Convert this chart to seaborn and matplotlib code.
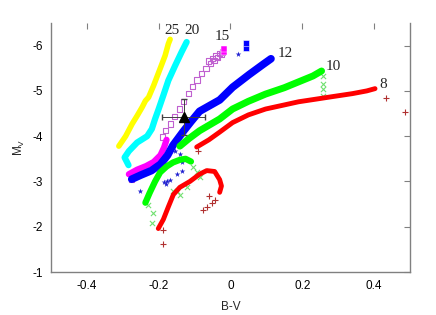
import numpy as np
import matplotlib
matplotlib.use("Agg")
import matplotlib.pyplot as plt
import seaborn as sns

# eixos
x_ticks = [-0.4, -0.2, 0.0, 0.2, 0.4]
x_tick_labels = ["-0.4", "-0.2", "0", "0.2", "0.4"]
y_ticks = [-6, -5, -4, -3, -2, -1]
y_tick_labels = ["-6", "-5", "-4", "-3", "-2", "-1"]

# trajetórias (B-V, M_V)
bv_25 = [-0.311, -0.292, -0.274, -0.26, -0.246, -0.237, -0.228, -0.214, -0.196, -0.182, -0.173, -0.168]
mv_25 = [-3.78, -4.0, -4.27, -4.45, -4.64, -4.78, -4.86, -5.12, -5.49, -5.78, -6.04, -6.14]

bv_20 = [-0.284, -0.295, -0.283, -0.26, -0.232, -0.219, -0.21, -0.2, -0.187, -0.173, -0.154, -0.136, -0.122]
mv_20 = [-3.36, -3.53, -3.67, -3.86, -4.0, -4.16, -4.38, -4.6, -4.9, -5.23, -5.56, -5.86, -6.08]

bv_15 = [-0.283, -0.26, -0.235, -0.214, -0.195, -0.185, -0.178]
mv_15 = [-3.16, -3.26, -3.34, -3.43, -3.58, -3.75, -3.92]
bv_15b = [-0.19, -0.18, -0.168, -0.155, -0.142, -0.13, -0.117, -0.105, -0.093, -0.08, -0.068, -0.056, -0.045, -0.035, -0.025,
          -0.06, -0.05, -0.04, -0.03, -0.022, -0.275, -0.268, -0.262, -0.19, -0.2]
mv_15b = [-3.98, -4.12, -4.27, -4.44, -4.6, -4.77, -4.94, -5.1, -5.24, -5.38, -5.5, -5.6, -5.68, -5.74, -5.8,
          -5.66, -5.72, -5.77, -5.82, -5.86, -3.05, -3.12, -3.18, -3.38, -3.42]
bv_15c = [-0.017, -0.017]
mv_15c = [-5.85, -5.93]

bv_12 = [-0.275, -0.25, -0.22, -0.195, -0.175, -0.16, -0.13, -0.11, -0.086, -0.03, 0.006, 0.052, 0.09, 0.113]
mv_12 = [-3.05, -3.14, -3.24, -3.38, -3.58, -3.8, -4.12, -4.32, -4.55, -4.8, -5.08, -5.36, -5.58, -5.71]
bv_12b = [-0.163, -0.154, -0.141, -0.135, -0.136, -0.15, -0.168, -0.177, -0.251, -0.237, -0.18, -0.185, 0.02]
mv_12b = [-3.71, -3.67, -3.6, -3.42, -3.23, -3.16, -3.04, -3.0, -2.79, -2.56, -2.95, -2.98, -5.82]
bv_12c = [0.044, 0.044]
mv_12c = [-5.95, -6.05]

bv_10 = [-0.237, -0.225, -0.21, -0.196, -0.178, -0.16, -0.14, -0.125, -0.11]
mv_10 = [-2.53, -2.75, -3.0, -3.2, -3.33, -3.42, -3.48, -3.5, -3.44]
bv_10b = [-0.141, -0.115, -0.086, -0.03, 0.006, 0.05, 0.098, 0.15, 0.19, 0.23, 0.254]
mv_10b = [-3.78, -3.95, -4.12, -4.38, -4.6, -4.77, -4.93, -5.07, -5.2, -5.33, -5.44]
bv_10x = [0.257, 0.257, 0.257, 0.257, -0.105, -0.094, -0.086, -0.16, -0.121, -0.218, -0.215, -0.14, -0.15, -0.23]
mv_10x = [-5.33, -5.16, -5.04, -4.89, -3.33, -3.2, -3.09, -2.78, -2.87, -2.09, -2.31, -2.7, -2.8, -2.48]

bv_8 = [-0.201, -0.187, -0.173, -0.159, -0.141, -0.113, -0.086, -0.066, -0.044, -0.03, -0.025, -0.03]
mv_8 = [-1.96, -2.16, -2.44, -2.71, -2.87, -3.0, -3.16, -3.24, -3.22, -3.04, -2.9, -2.76]
bv_8b = [-0.094, -0.06, -0.03, 0.006, 0.05, 0.098, 0.15, 0.19, 0.24, 0.281, 0.34, 0.38, 0.403]
mv_8b = [-3.76, -3.92, -4.09, -4.3, -4.47, -4.6, -4.69, -4.76, -4.82, -4.87, -4.94, -5.0, -5.05]
bv_8x = [-0.044, -0.052, -0.066, -0.077, -0.061, -0.187, -0.188, -0.091, 0.434, 0.486]
mv_8x = [-2.6, -2.53, -2.44, -2.36, -2.67, -1.93, -1.62, -3.67, -4.84, -4.53]

# estrela observada
star_bv, star_mv = -0.13, -4.42
star_bv_err, star_mv_err = 0.06, 0.4

# rótulos das massas
mass_labels = ["25", "20", "15", "12", "10", "8"]
label_bv = [-0.163, -0.106, -0.023, 0.153, 0.288, 0.425]
label_mv = [-6.33, -6.33, -6.21, -5.82, -5.54, -5.14]

sns.set_style("white")
plt.rcParams["font.family"] = ["Liberation Sans", "DejaVu Sans"]
plt.rcParams["axes.unicode_minus"] = False
plt.rcParams["mathtext.fontset"] = "custom"
plt.rcParams["mathtext.rm"] = "Liberation Sans"

fig = plt.figure(figsize=(4.36, 3.15), dpi=100)
ax = fig.add_axes([0.117, 0.1365, 0.823, 0.7905])

def track(bv, mv, color, lw):
    sns.lineplot(x=bv, y=mv, sort=False, estimator=None, color=color, linewidth=lw,
                 solid_capstyle="round", solid_joinstyle="round", ax=ax)

track(bv_25, mv_25, "#ffff00", 4)
track(bv_20, mv_20, "#00ffff", 4.5)
sns.scatterplot(x=bv_15b, y=mv_15b, marker="s", s=14, facecolor="none", edgecolor="#c060d0",
                linewidth=0.8, ax=ax)
track(bv_15, mv_15, "#ff00ff", 4.5)
sns.scatterplot(x=bv_15c, y=mv_15c, marker="s", s=18, color="#ff00ff", ax=ax)
sns.scatterplot(x=bv_12b, y=mv_12b, marker="*", s=18, color="#2020d0", linewidth=0, ax=ax)
track(bv_12, mv_12, "#0000ff", 5.5)
sns.scatterplot(x=bv_12c, y=mv_12c, marker="s", s=22, color="#0000ff", ax=ax)
sns.scatterplot(x=bv_10x, y=mv_10x, marker="x", s=14, color="#70e070", linewidth=0.8, ax=ax)
track(bv_10, mv_10, "#00ff00", 4.5)
track(bv_10b, mv_10b, "#00ff00", 5)
sns.scatterplot(x=bv_8x, y=mv_8x, marker="+", s=16, color="#b03030", linewidth=0.8, ax=ax)
track(bv_8, mv_8, "#ff0000", 3.5)
track(bv_8b, mv_8b, "#ff0000", 3.5)

ax.errorbar(star_bv, star_mv, xerr=star_bv_err, yerr=star_mv_err, fmt="^", color="black",
            ecolor="#404040", elinewidth=0.7, capsize=2, markersize=7, zorder=5)

for lab, x, y in zip(mass_labels, label_bv, label_mv):
    ax.text(x, y, lab, ha="center", va="center", fontsize=11, family="Liberation Serif")

ax.set_xlim(-0.5, 0.5)
ax.set_ylim(-1, -6.5)
ax.set_xticks(x_ticks, labels=x_tick_labels)
ax.set_yticks(y_ticks, labels=y_tick_labels)
ax.tick_params(direction="in", top=True, right=True, length=4, width=0.8, colors="#808080",
               labelcolor="black", labelsize=8.5, pad=6)
ax.spines["top"].set_visible(False)
for s in ["left", "right", "bottom"]:
    ax.spines[s].set_color("#808080")
    ax.spines[s].set_linewidth(1)
ax.set_xlabel("B-V", fontsize=8.5, labelpad=6)
ax.set_ylabel(r"M$_\mathrm{V}$", fontsize=8.5, labelpad=4)

fig.savefig("out.png", dpi=100)
